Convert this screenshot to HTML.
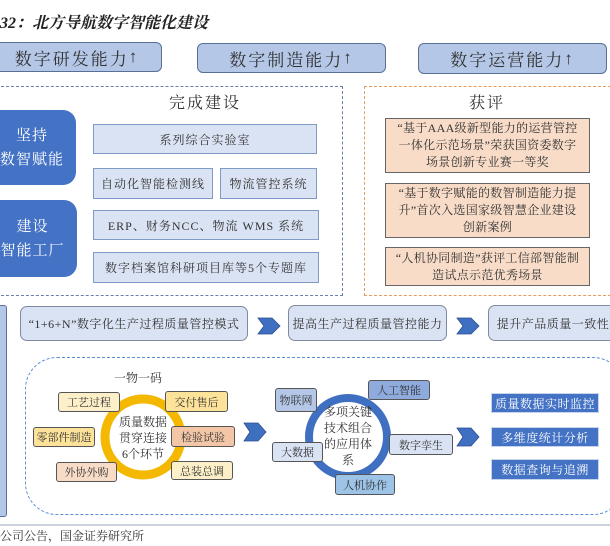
<!DOCTYPE html><html><head><meta charset="utf-8"><style>
body{margin:0;width:610px;height:546px;background:#fff;position:relative;overflow:hidden;font-family:"Liberation Serif","Noto Serif CJK SC",serif;color:#333}
.a{position:absolute;box-sizing:border-box;display:flex;align-items:center;justify-content:center;text-align:center}
.top{background:#b4c7e7;border:1.5px solid #5a6f96;border-radius:6px;font-size:17px;letter-spacing:2px}
.lb{background:#dae3f3;border:1.5px solid #7f9ac4;font-size:12px;letter-spacing:1px}
.bb{background:#4472c4;border-radius:13px;color:#fff;font-size:15px;line-height:24px;letter-spacing:1px}
.aw{background:#f8dcc8;border:1.5px solid #666;font-size:12px;line-height:17px;letter-spacing:0.3px;padding:0 8px}
.pr{background:#dae3f3;border:1.5px solid #7f8aa0;border-radius:7px;font-size:12px;letter-spacing:0.5px}
.sm{border:1.2px solid #555;border-radius:3px;font-size:11px;letter-spacing:0;white-space:nowrap}
.db{background:#4472c4;border:1px solid #c8d4ea;color:#fff;font-size:12px;letter-spacing:0.5px;white-space:nowrap}
</style></head><body>
<div class="a" style="left:0;top:10px;height:22px;font-size:16px;font-weight:bold;font-style:italic;color:#222">32：北方导航数字智能化建设</div>
<div class="a top" style="left:-8px;top:42px;width:170px;height:30px">数字研发能力<b>↑</b></div>
<div class="a top" style="left:197px;top:43px;width:189px;height:30px">数字制造能力<b>↑</b></div>
<div class="a top" style="left:418px;top:43px;width:189px;height:31px">数字运营能力<b>↑</b></div>
<div class="a" style="left:-4px;top:86px;width:347px;height:210px;border:1.5px dashed #6a7fa8;box-sizing:border-box"></div>
<div class="a" style="left:364px;top:86px;width:252px;height:210px;border:1.5px dashed #e69a5e;box-sizing:border-box"></div>
<div class="a" style="left:155px;top:90px;width:100px;height:22px;font-size:16px;letter-spacing:2px">完成建设</div>
<div class="a" style="left:437px;top:90px;width:100px;height:22px;font-size:16px;letter-spacing:2px">获评</div>
<div class="a bb" style="left:-12px;top:110px;width:88px;height:75px">坚持<br>数智赋能</div>
<div class="a bb" style="left:-12px;top:200px;width:89px;height:77px">建设<br>智能工厂</div>
<div class="a lb" style="left:93px;top:124px;width:224px;height:30px">系列综合实验室</div>
<div class="a lb" style="left:93px;top:168px;width:120px;height:31px">自动化智能检测线</div>
<div class="a lb" style="left:220px;top:168px;width:97px;height:31px">物流管控系统</div>
<div class="a lb" style="left:93px;top:210px;width:226px;height:30px">ERP、财务NCC、物流 WMS 系统</div>
<div class="a lb" style="left:93px;top:252px;width:226px;height:31px">数字档案馆科研项目库等5个专题库</div>
<div class="a aw" style="left:385px;top:118px;width:205px;height:55px">“基于AAA级新型能力的运营管控一体化示范场景”荣获国资委数字场景创新专业赛一等奖</div>
<div class="a aw" style="left:385px;top:183px;width:205px;height:55px">“基于数字赋能的数智制造能力提升”首次入选国家级智慧企业建设创新案例</div>
<div class="a aw" style="left:385px;top:247px;width:205px;height:39px">“人机协同制造”获评工信部智能制造试点示范优秀场景</div>
<div class="a" style="left:-4px;top:305px;width:11px;height:212px;background:#b4c7e7;border:1.5px solid #5a6f96;border-radius:3px"></div>
<div class="a pr" style="left:20px;top:306px;width:228px;height:35px">“1+6+N”数字化生产过程质量管控模式</div>
<div class="a pr" style="left:288px;top:305px;width:159px;height:36px">提高生产过程质量管控能力</div>
<div class="a pr" style="left:488px;top:305px;width:130px;height:36px">提升产品质量一致性</div>
<div class="a" style="left:25px;top:357px;width:600px;height:158px;border:1.5px dashed #5b8ed6;border-radius:32px;box-sizing:border-box"></div>
<svg style="position:absolute;left:0;top:0" width="610" height="546">
<g fill="#3f6fc0" stroke="#2a4f90" stroke-width="0.8">
<polygon points="258,318 272,318 280,326 272,334 258,334 264,326"/>
<polygon points="457,318 471,318 479,326 471,334 457,334 463,326"/>
<polygon points="244,423 258,423 266,432 258,441 244,441 250,432"/>
<polygon points="457,428 471,428 479,437 471,446 457,446 463,437"/>
</g>
<circle cx="143" cy="437" r="38" fill="#fff" stroke="#f5b800" stroke-width="9"/>
<circle cx="348" cy="437" r="39" fill="#fff" stroke="#3f6fc0" stroke-width="8"/>
<line x1="0" y1="525" x2="610" y2="525" stroke="#9aa6b8" stroke-width="1"/>
</svg>
<div class="a" style="left:113px;top:369px;width:50px;height:16px;font-size:12px">一物一码</div>
<div class="a" style="left:103px;top:413px;width:80px;height:50px;font-size:12px;line-height:16px">质量数据<br>贯穿连接<br>6个环节</div>
<div class="a sm" style="left:58px;top:392px;width:62px;height:20px;background:#fdf0c8">工艺过程</div>
<div class="a sm" style="left:165px;top:391px;width:63px;height:21px;background:#fde39a">交付售后</div>
<div class="a sm" style="left:33px;top:427px;width:62px;height:20px;background:#fde39a">零部件制造</div>
<div class="a sm" style="left:171px;top:426px;width:64px;height:21px;background:#f4c6a8">检验试验</div>
<div class="a sm" style="left:56px;top:462px;width:61px;height:20px;background:#f8dcc8">外协外购</div>
<div class="a sm" style="left:171px;top:461px;width:62px;height:19px;background:#fdf0c8">总装总调</div>
<div class="a" style="left:313px;top:403px;width:70px;height:66px;font-size:12px;line-height:16px">多项关键<br>技术组合<br>的应用体<br>系</div>
<div class="a sm" style="left:275px;top:388px;width:42px;height:24px;background:#b4c7e7">物联网</div>
<div class="a sm" style="left:368px;top:380px;width:62px;height:20px;background:#8faadc">人工智能</div>
<div class="a sm" style="left:272px;top:442px;width:51px;height:20px;background:#dae3f3">大数据</div>
<div class="a sm" style="left:389px;top:434px;width:64px;height:21px;background:#dae3f3">数字孪生</div>
<div class="a sm" style="left:335px;top:474px;width:60px;height:21px;background:#9dc3e6">人机协作</div>
<div class="a db" style="left:491px;top:393px;width:108px;height:20px">质量数据实时监控</div>
<div class="a db" style="left:491px;top:427px;width:108px;height:20px">多维度统计分析</div>
<div class="a db" style="left:491px;top:459px;width:108px;height:21px">数据查询与追溯</div>
<div class="a" style="left:0;top:527px;height:16px;font-size:12px">公司公告，国金证券研究所</div>
</body></html>
